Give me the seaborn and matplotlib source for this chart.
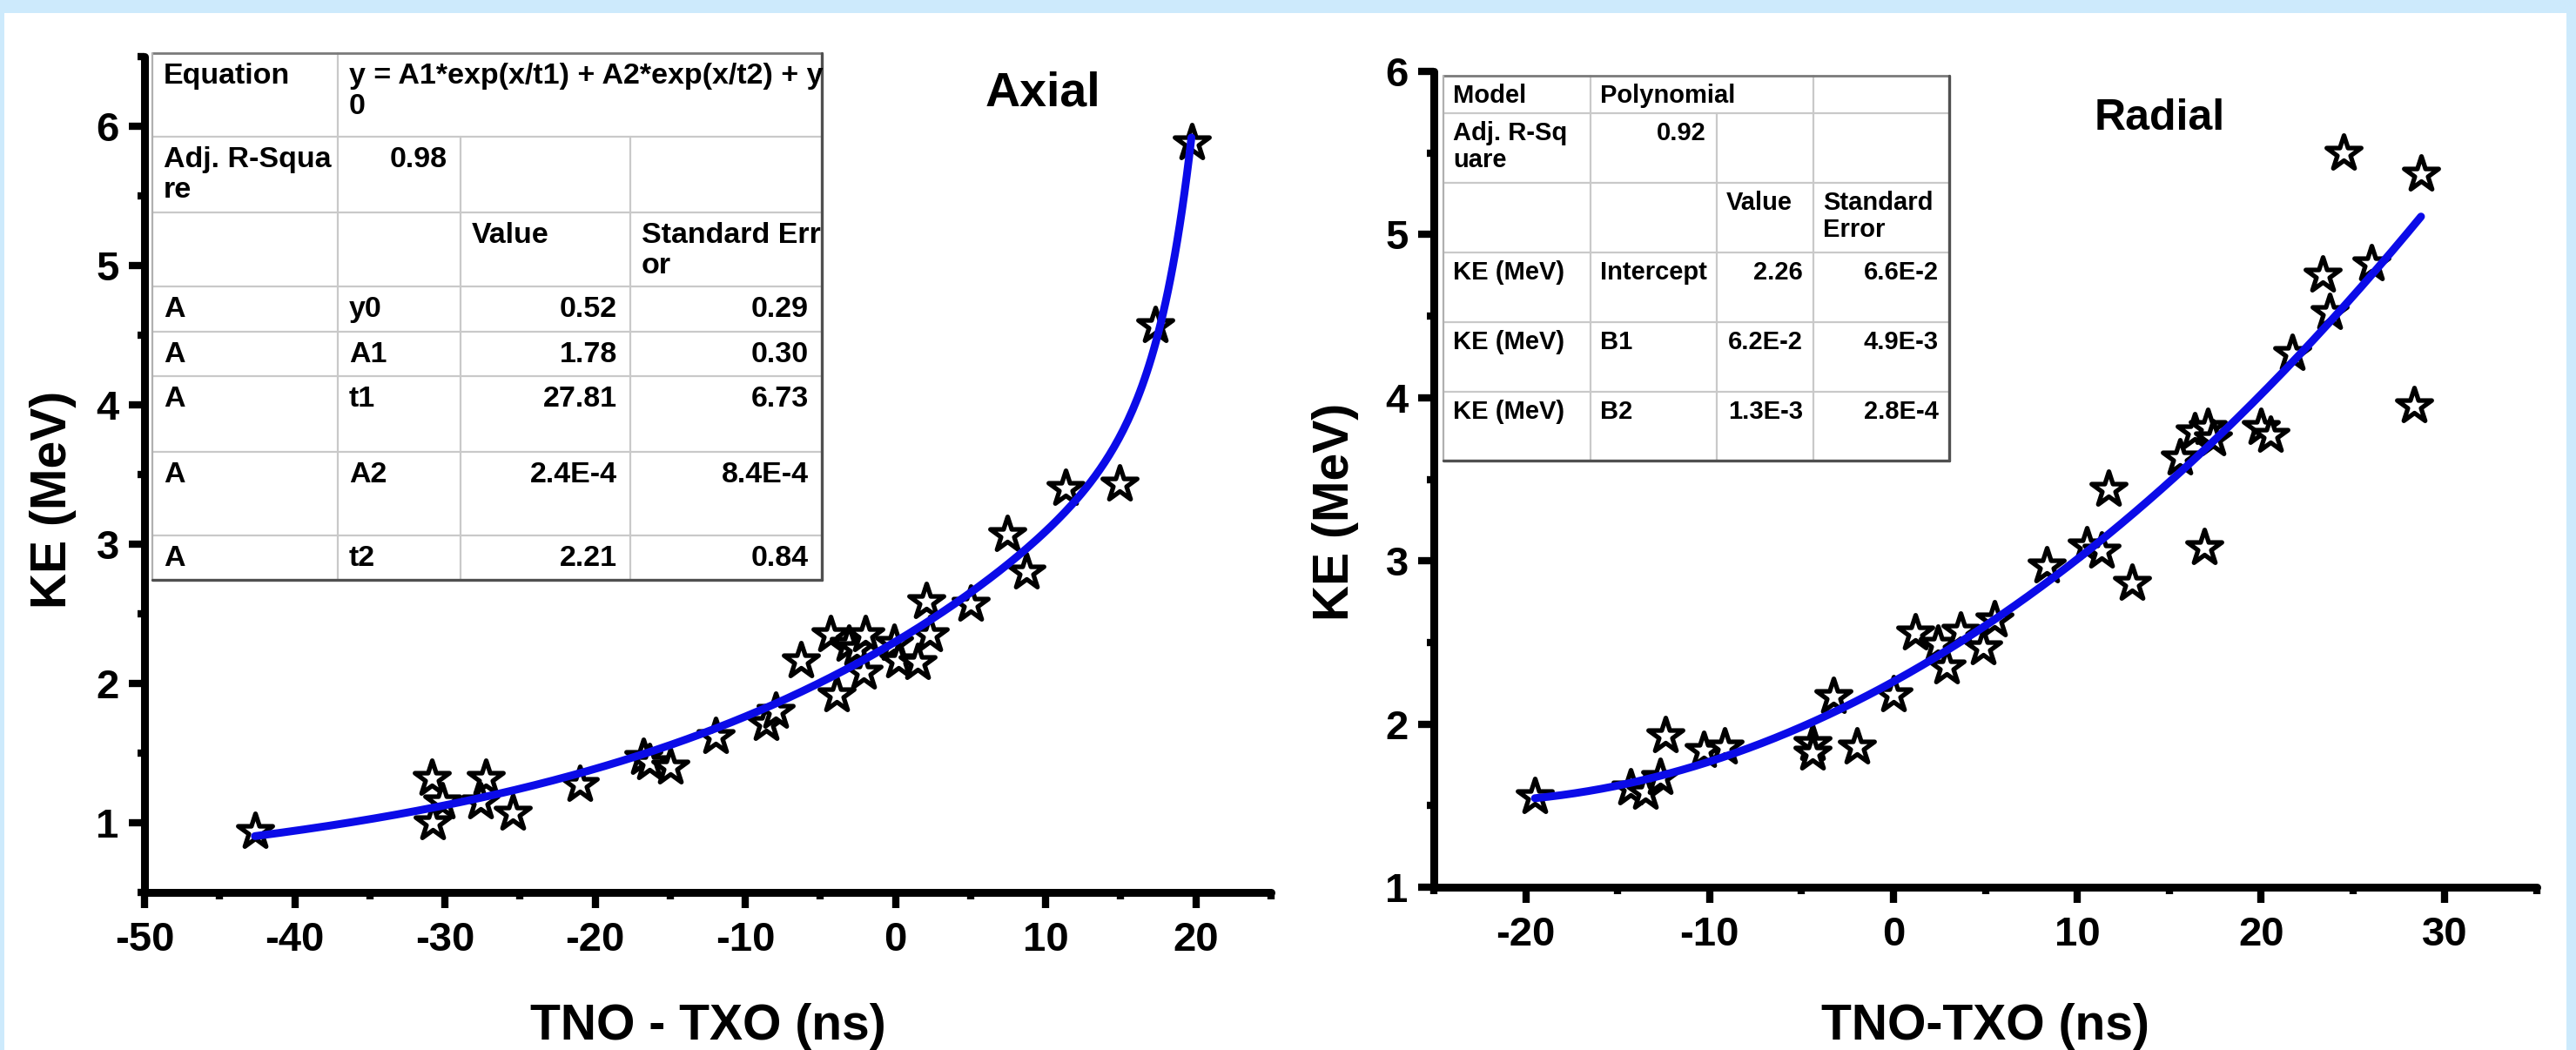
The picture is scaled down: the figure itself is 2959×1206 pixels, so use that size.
import numpy as np
import pandas as pd
import matplotlib
matplotlib.use("Agg")
import matplotlib.pyplot as plt
import seaborn as sns
from matplotlib.patches import Rectangle
from matplotlib.lines import Line2D
from matplotlib.ticker import MultipleLocator

# ---------------- data ----------------
axial_x = [-42.65, -30.9, -30.2, -30.8, -27.3, -27.6, -25.5, -21.0, -16.8, -16.4,
           -15.0, -12.0, -8.6, -8.0, -6.3, -4.35, -3.95, -3.1, -2.6, -2.0,
           -2.1, -0.1, 0.2, 1.45, 2.3, 2.07, 5.0, 7.45, 8.7, 11.3,
           14.9, 17.3, 19.7]
axial_ke = [0.94, 1.32, 1.15, 1.00, 1.32, 1.15, 1.07, 1.275, 1.47, 1.43,
            1.40, 1.62, 1.71, 1.80, 2.16, 2.35, 1.92, 2.28, 2.25, 2.35,
            2.08, 2.29, 2.16, 2.15, 2.35, 2.59, 2.57, 3.07, 2.80, 3.40,
            3.43, 4.57, 5.88]

radial_x = [-19.5, -14.3, -13.5, -12.7, -12.4, -10.3, -9.2, -4.4, -4.4, -1.97,
            -3.24, 0.0, 1.2, 2.4, 2.87, 3.67, 4.86, 5.5, 8.35, 10.5,
            11.3, 11.7, 13.0, 16.9, 15.57, 16.4, 17.1, 17.4, 20.0, 20.5,
            24.5, 28.7, 23.35, 26.0, 23.75, 21.7, 28.3]
radial_ke = [1.555, 1.61, 1.58, 1.67, 1.93, 1.84, 1.86, 1.88, 1.82, 1.86,
             2.17, 2.18, 2.56, 2.49, 2.35, 2.57, 2.47, 2.64, 2.97, 3.09,
             3.06, 3.44, 2.86, 3.08, 3.63, 3.79, 3.82, 3.75, 3.82, 3.77,
             5.50, 5.37, 4.75, 4.82, 4.52, 4.27, 3.95]

# fit parameters as printed in the tables
axial_y0, axial_A1, axial_t1, axial_A2, axial_t2 = 0.52, 1.78, 27.81, 2.4e-4, 2.21
radial_b0, radial_b1, radial_b2 = 2.26, 6.2e-2, 1.3e-3

axial_xticks = [-50, -40, -30, -20, -10, 0, 10, 20]
radial_xticks = [-20, -10, 0, 10, 20, 30]
ke_ticks = [1, 2, 3, 4, 5, 6]

axial_table = [
    ["Equation", "y = A1*exp(x/t1) + A2*exp(x/t2) + y\n0", None, None],
    ["Adj. R-Squa\nre", "0.98", "", ""],
    ["", "", "Value", "Standard Err\nor"],
    ["A", "y0", "0.52", "0.29"],
    ["A", "A1", "1.78", "0.30"],
    ["A", "t1", "27.81", "6.73"],
    ["A", "A2", "2.4E-4", "8.4E-4"],
    ["A", "t2", "2.21", "0.84"],
]
radial_table = [
    ["Model", "Polynomial", None, ""],
    ["Adj. R-Sq\nuare", "0.92", "", ""],
    ["", "", "Value", "Standard\nError"],
    ["KE (MeV)", "Intercept", "2.26", "6.6E-2"],
    ["KE (MeV)", "B1", "6.2E-2", "4.9E-3"],
    ["KE (MeV)", "B2", "1.3E-3", "2.8E-4"],
]

# ---------------- style ----------------
sns.set_theme(style="ticks")
plt.rcParams["font.family"] = ["Liberation Sans", "DejaVu Sans"]
plt.rcParams["font.weight"] = "bold"
for k in ["text.color", "axes.labelcolor", "xtick.color", "ytick.color",
          "axes.edgecolor"]:
    plt.rcParams[k] = "black"

W, H = 2959, 1206
fig = plt.figure(figsize=(W / 100, H / 100), dpi=100)
fig.patch.set_facecolor("#cdeafc")
fig.patches.append(Rectangle((5 / W, 0), (2948 - 5) / W, (H - 15) / H,
                             transform=fig.transFigure, facecolor="white",
                             edgecolor="none", zorder=-5))

BLUE = "#0b0be8"


def style_axes(ax, xlim, ylim, xticks, xminor):
    ax.set_xlim(*xlim)
    ax.set_ylim(*ylim)
    ax.set_facecolor("white")
    for s in ["top", "right"]:
        ax.spines[s].set_visible(False)
    for s in ["left", "bottom"]:
        ax.spines[s].set_linewidth(6.5)
        ax.spines[s].set_color("black")
        ax.spines[s].set_capstyle("round")
    ax.set_xticks(xticks)
    ax.set_xticklabels([str(t) for t in xticks])
    ax.set_yticks(ke_ticks)
    ax.set_yticklabels([str(t) for t in ke_ticks])
    ax.xaxis.set_minor_locator(MultipleLocator(xminor))
    ax.yaxis.set_minor_locator(MultipleLocator(0.5))
    ax.tick_params(which="major", direction="out", length=13, width=6,
                   color="black", labelcolor="black", labelsize=34)
    ax.tick_params(which="minor", direction="out", length=6, width=6,
                   color="black")
    ax.tick_params(axis="x", which="major", pad=11)
    ax.tick_params(axis="y", which="major", pad=8)
    for lab in ax.get_xticklabels() + ax.get_yticklabels():
        lab.set_fontweight("bold")


# ---------------- Axial ----------------
axL = fig.add_axes([166 / W, 1 - 1025 / H, (1460 - 166) / W, (1025 - 65) / H])
dfA = pd.DataFrame({"x": axial_x, "ke": axial_ke})
sns.scatterplot(data=dfA, x="x", y="ke", marker="*", s=900, facecolor="white",
                edgecolor="black", linewidth=3.8, ax=axL, zorder=3)
xa = np.linspace(min(axial_x), max(axial_x), 400)
ya = axial_A1 * np.exp(xa / axial_t1) + axial_A2 * np.exp(xa / axial_t2) + axial_y0
sns.lineplot(x=xa, y=ya, color=BLUE, linewidth=6.5, ax=axL, zorder=4)
style_axes(axL, (-50, 25), (0.5, 6.5), axial_xticks, 5)
axL.set_xlabel("TNO - TXO (ns)", fontsize=41, fontweight="bold", color="black")
axL.set_ylabel("KE (MeV)", fontsize=41, fontweight="bold", color="black")
axL.xaxis.set_label_coords(0.5, -0.132)
axL.yaxis.set_label_coords(-0.060, 0.47)

# ---------------- Radial ----------------
axR = fig.add_axes([1647 / W, 1 - 1019 / H, (2914 - 1647) / W, (1019 - 82) / H])
dfR = pd.DataFrame({"x": radial_x, "ke": radial_ke})
sns.scatterplot(data=dfR, x="x", y="ke", marker="*", s=900, facecolor="white",
                edgecolor="black", linewidth=3.8, ax=axR, zorder=3)
xr = np.linspace(min(radial_x), max(radial_x), 400)
yr = radial_b0 + radial_b1 * xr + radial_b2 * xr ** 2
sns.lineplot(x=xr, y=yr, color=BLUE, linewidth=6.5, ax=axR, zorder=4)
style_axes(axR, (-25, 35), (1, 6), radial_xticks, 5)
axR.set_xlabel("TNO-TXO (ns)", fontsize=41, fontweight="bold", color="black")
axR.set_ylabel("KE (MeV)", fontsize=41, fontweight="bold", color="black")
axR.xaxis.set_label_coords(0.5, -0.142)
axR.yaxis.set_label_coords(-0.068, 0.46)

# ---------------- overlay (tables, titles) in pixel coords ----------------
ov = fig.add_axes([0, 0, 1, 1], zorder=10)
ov.set_xlim(0, W)
ov.set_ylim(H, 0)
ov.axis("off")


def draw_table(rows, cols, rowy, fs, merged_row0_cols, right_cols, inset_l,
               inset_r, inset_t):
    x0, x1 = cols[0], cols[-1]
    y0, y1 = rowy[0], rowy[-1]
    ov.add_patch(Rectangle((x0, y0), x1 - x0, y1 - y0, facecolor="white",
                           edgecolor="none", zorder=1))
    grid = "#c9c9c9"
    for y in rowy[1:-1]:
        ov.add_line(Line2D([x0, x1], [y, y], color=grid, lw=1.6, zorder=2))
    for ci, x in enumerate(cols[1:-1], start=1):
        top = rowy[1] if ci in merged_row0_cols else rowy[0]
        ov.add_line(Line2D([x, x], [top, y1], color=grid, lw=1.6, zorder=2))
    ov.add_line(Line2D([x0, x1], [y0, y0], color="#7a7a7a", lw=2, zorder=3))
    ov.add_line(Line2D([x0, x0], [y0, y1], color="#b0b0b0", lw=1.6, zorder=3))
    ov.add_line(Line2D([x1, x1], [y0, y1], color="#505050", lw=2.4, zorder=3))
    ov.add_line(Line2D([x0, x1], [y1, y1], color="#505050", lw=2.4, zorder=3))
    for ri, row in enumerate(rows):
        for ci, txt in enumerate(row):
            if not txt:
                continue
            ty = rowy[ri] + inset_t
            is_num = ci in right_cols and ri != 2 and ri >= 1
            if ri == 1 and ci == 1:
                is_num = True
            if is_num:
                ov.text(cols[ci + 1] - inset_r, ty, txt, ha="right", va="top",
                        fontsize=fs, fontweight="bold", color="black",
                        zorder=4, linespacing=1.15)
            else:
                ov.text(cols[ci] + inset_l, ty, txt, ha="left", va="top",
                        fontsize=fs, fontweight="bold", color="black",
                        zorder=4, linespacing=1.15)


draw_table(axial_table,
           [175, 388, 529, 724, 944],
           [61, 157, 244, 329, 381, 432, 519, 615, 666],
           24.5, merged_row0_cols={2, 3}, right_cols={2, 3},
           inset_l=13, inset_r=15, inset_t=11)

draw_table(radial_table,
           [1658, 1827, 1972, 2083, 2239],
           [87, 130, 210, 290, 370, 450, 529],
           21, merged_row0_cols={2}, right_cols={2, 3},
           inset_l=11, inset_r=12, inset_t=9)

ov.text(1198, 107, "Axial", ha="center", va="center", fontsize=40,
        fontweight="bold", color="black")
ov.text(2481, 136, "Radial", ha="center", va="center", fontsize=36,
        fontweight="bold", color="black")

fig.savefig("out.png", dpi=100, facecolor=fig.get_facecolor())
